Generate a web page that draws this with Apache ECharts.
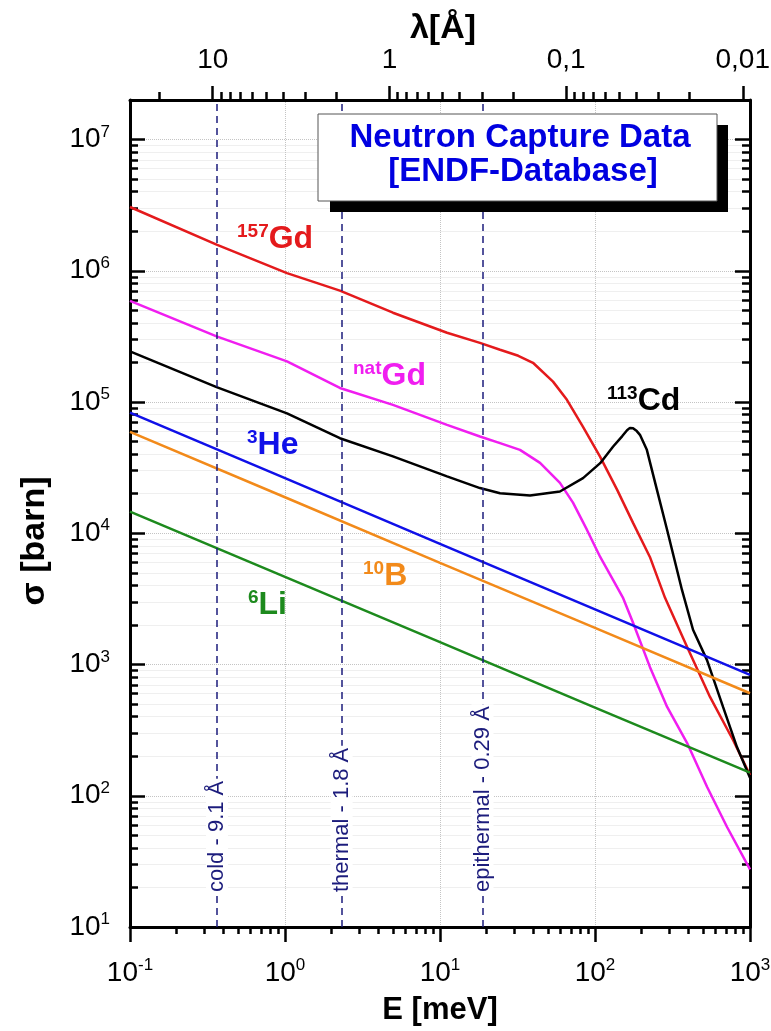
<!DOCTYPE html>
<html>
<head>
<meta charset="utf-8">
<script src="https://cdn.jsdelivr.net/npm/echarts@6/dist/echarts.min.js"></script>
<style>
  html, body { margin: 0; padding: 0; background: #fff; }
  #main { width: 771px; height: 1031px; }
</style>
</head>
<body>
<div id="main"></div>
<script>
const FONT = '"Liberation Sans", Arial, sans-serif'

// capture cross sections: E [meV] -> sigma [barn]
const eGd157 = [0.1, 0.362, 1.03, 2.26, 4.97, 11.1, 18.1, 24.4, 32, 39.8, 53.6, 65.9, 83.7, 108, 139, 176, 226, 283, 393, 552, 777, 1000]
const sGd157 = [3.06e6, 1.58e6, 9.6e5, 7.05e5, 4.79e5, 3.37e5, 2.82e5, 2.5e5, 2.25e5, 1.99e5, 1.43e5, 1.04e5, 6.47e4, 3.82e4, 2.14e4, 1.2e4, 6.6e3, 3.22e3, 1.36e3, 566, 266, 144]

const eGdNat = [0.1, 0.362, 1.03, 2.26, 4.97, 11.1, 18.1, 24.4, 32.8, 44.2, 59.4, 72.1, 88.8, 108, 131, 152, 176, 226, 292, 393, 528, 711, 1000]
const sGdNat = [5.9e5, 3.16e5, 2.04e5, 1.28e5, 9.5e4, 6.7e4, 5.46e4, 4.86e4, 4.32e4, 3.44e4, 2.42e4, 1.71e4, 1.06e4, 6.6e3, 4.4e3, 3.2e3, 2.08e3, 959, 475, 252, 117, 57.8, 27.5]

const eCd113 = [0.1, 0.362, 1.03, 2.26, 4.97, 11.1, 18.1, 24.4, 38.1, 59.4, 83.7, 108, 131, 150, 161, 168, 176, 186, 195, 216, 251, 292, 364, 429, 528, 670, 824, 1000]
const sCd113 = [2.43e5, 1.3e5, 8.2e4, 5.3e4, 3.85e4, 2.71e4, 2.21e4, 2.02e4, 1.94e4, 2.08e4, 2.63e4, 3.42e4, 4.58e4, 5.5e4, 6.1e4, 6.35e4, 6.3e4, 6.0e4, 5.62e4, 4.32e4, 2.14e4, 1.06e4, 3.7e3, 1.84e3, 1.08e3, 475, 235, 137]

// the 1/v absorbers
const eOneOverV = [0.1, 1, 10, 100, 1000]
const sHe3 = [8.3e4, 2.63e4, 8.3e3, 2.63e3, 834]
const sB10 = [5.93e4, 1.88e4, 5.95e3, 1.9e3, 604]
const sLi6 = [1.46e4, 4.65e3, 1.48e3, 470, 150]

// cold / thermal / epithermal markers
const eMarks = [0.364, 2.32, 18.8]
const markNames = ['cold - 9.1 Å', 'thermal - 1.8 Å', 'epithermal - 0.29 Å']

// tick values
const lambdaTicks = [10, 1, 0.1, 0.01]
const lambdaLabels = ['10', '1', '0,1', '0,01']
const lambdaMinor = [20, 9, 8, 7, 6, 5, 4, 3, 2, 0.9, 0.8, 0.7, 0.6, 0.5, 0.4, 0.3, 0.2,
  0.09, 0.08, 0.07, 0.06, 0.05, 0.04, 0.03, 0.02]
const eMinor = [0.2, 0.3, 0.4, 0.5, 0.6, 0.7, 0.8, 0.9, 2, 3, 4, 5, 6, 7, 8, 9,
  20, 30, 40, 50, 60, 70, 80, 90, 200, 300, 400, 500, 600, 700, 800, 900]
const sMinor = [20, 30, 40, 50, 60, 70, 80, 90, 200, 300, 400, 500, 600, 700, 800, 900,
  2000, 3000, 4000, 5000, 6000, 7000, 8000, 9000, 2e4, 3e4, 4e4, 5e4, 6e4, 7e4, 8e4, 9e4,
  2e5, 3e5, 4e5, 5e5, 6e5, 7e5, 8e5, 9e5, 2e6, 3e6, 4e6, 5e6, 6e6, 7e6, 8e6, 9e6]

function pairs(es, ss) {
  return es.map((e, i) => [e, ss[i]])
}

function pow10(v) {
  let n = Math.round(Math.log10(v))
  if (Math.abs(Math.log10(v) - n) > 0.01) return ''
  return '{b|10}{s|' + n + '}'
}

const powRich = {
  b: { fontSize: 28, fontFamily: FONT, color: '#000', lineHeight: 32 },
  s: { fontSize: 17, fontFamily: FONT, color: '#000', lineHeight: 12, verticalAlign: 'top' }
}

const frame = { show: true, lineStyle: { color: '#000', width: 3 } }
const tick = (len, inside, vals) => ({
  show: true, inside: inside, length: len, customValues: vals,
  lineStyle: { color: '#000', width: 2.5 }
})

function isoLabel(x, yc, sup, main, color) {
  return {
    type: 'text', x: x, y: yc - 17, z: 50,
    style: {
      text: '{a|' + sup + '}{m|' + main + '}',
      fill: color, align: 'left', verticalAlign: 'top',
      rich: {
        a: { font: 'bold 19px ' + FONT, fill: color, lineHeight: 10, verticalAlign: 'top' },
        m: { font: 'bold 32px ' + FONT, fill: color, lineHeight: 34 }
      }
    }
  }
}

function axisTitle(x, y, text, size, rot) {
  return {
    type: 'text', z: 50, x: x, y: y, rotation: rot || 0,
    style: { text: text, font: 'bold ' + size + 'px ' + FONT, fill: '#000', align: 'center', verticalAlign: 'middle' }
  }
}

let EC = echarts.init(document.getElementById('main'))

let option = {
  animation: false,
  backgroundColor: '#fff',
  textStyle: { fontFamily: FONT },
  grid: { left: 130, right: 21, top: 100, bottom: 104, outerBoundsMode: 'none', containLabel: false },
  xAxis: [
    {
      type: 'log', position: 'bottom', min: 0.1, max: 1000,
      axisLine: frame,
      axisTick: tick(15, false),
      axisLabel: { formatter: pow10, rich: powRich, margin: 30 },
      splitLine: { show: true, lineStyle: { color: '#c4c4c4', type: 'dotted', width: 1 } }
    },
    {
      type: 'log', position: 'bottom', min: 0.1, max: 1000,
      axisLine: { show: false }, axisTick: tick(7, false, eMinor),
      axisLabel: { show: false }, splitLine: { show: false }
    },
    {
      type: 'log', position: 'top', inverse: true, min: 0.0091, max: 29.4,
      axisLine: frame,
      axisTick: tick(14, false, lambdaTicks),
      axisLabel: {
        customValues: lambdaTicks, margin: 26, fontSize: 28, color: '#000',
        formatter: v => lambdaLabels[lambdaTicks.findIndex(t => Math.abs(t - v) < t * 0.01)] || ''
      },
      splitLine: { show: false }
    },
    {
      type: 'log', position: 'top', inverse: true, min: 0.0091, max: 29.4,
      axisLine: { show: false }, axisTick: tick(8, false, lambdaMinor),
      axisLabel: { show: false }, splitLine: { show: false }
    }
  ],
  yAxis: [
    {
      type: 'log', position: 'left', min: 10, max: 2e7,
      axisLine: frame,
      axisTick: tick(15, true),
      axisLabel: { formatter: pow10, rich: powRich, margin: 20 },
      splitLine: { show: true, lineStyle: { color: '#c4c4c4', type: 'dotted', width: 1 } }
    },
    {
      type: 'log', position: 'left', min: 10, max: 2e7,
      axisLine: { show: false }, axisTick: tick(8, true, sMinor),
      axisLabel: { show: false },
      splitLine: { show: true, lineStyle: { color: '#efefef', width: 1 } }
    },
    {
      type: 'log', position: 'right', min: 10, max: 2e7,
      axisLine: frame, axisTick: tick(15, true),
      axisLabel: { show: false }, splitLine: { show: false }
    },
    {
      type: 'log', position: 'right', min: 10, max: 2e7,
      axisLine: { show: false }, axisTick: tick(8, true, sMinor),
      axisLabel: { show: false }, splitLine: { show: false }
    }
  ],
  series: [
    { name: '157Gd', color: '#e41a1c', data: pairs(eGd157, sGd157) },
    { name: 'natGd', color: '#f01ef0', data: pairs(eGdNat, sGdNat) },
    { name: '113Cd', color: '#000000', data: pairs(eCd113, sCd113) },
    { name: '3He', color: '#1010e8', data: pairs(eOneOverV, sHe3) },
    { name: '10B', color: '#f28a1a', data: pairs(eOneOverV, sB10) },
    {
      name: '6Li', color: '#1d8a1d', data: pairs(eOneOverV, sLi6),
      markLine: {
        silent: true, symbol: ['none', 'none'],
        lineStyle: { color: '#1c1c7c', type: [7, 5], width: 1.5 },
        label: {
          show: true, position: 'insideStart', distance: [33, 0], formatter: '{b}',
          color: '#1c1c7c', fontSize: 22, fontFamily: FONT,
          backgroundColor: '#fff', padding: [0, 2]
        },
        data: eMarks.map((e, i) => [{ coord: [e, 10], name: markNames[i] }, { coord: [e, 2e7] }])
      }
    }
  ].map(s => Object.assign({
    type: 'line', xAxisIndex: 0, yAxisIndex: 0, showSymbol: false,
    lineStyle: { width: 2.5 }
  }, s)),
  graphic: [
    { type: 'rect', z: 100, shape: { x: 330, y: 125, width: 398, height: 87 }, style: { fill: '#000' } },
    { type: 'rect', z: 101, shape: { x: 318, y: 114, width: 399, height: 87 }, style: { fill: '#fff', stroke: '#555', lineWidth: 1 } },
    { type: 'text', z: 102, x: 520, y: 138, style: { text: 'Neutron Capture Data', font: 'bold 33px ' + FONT, fill: '#0000e0', align: 'center', verticalAlign: 'middle' } },
    { type: 'text', z: 102, x: 523, y: 172, style: { text: '[ENDF-Database]', font: 'bold 33px ' + FONT, fill: '#0000e0', align: 'center', verticalAlign: 'middle' } },
    axisTitle(35, 541, 'σ [barn]', 34, Math.PI / 2),
    axisTitle(440, 1010, 'E [meV]', 31),
    axisTitle(443, 29, 'λ[Å]', 34),
    isoLabel(237, 239, '157', 'Gd', '#e41a1c'),
    isoLabel(353, 376, 'nat', 'Gd', '#f01ef0'),
    isoLabel(607, 401, '113', 'Cd', '#000'),
    isoLabel(247, 445, '3', 'He', '#1010e8'),
    isoLabel(363, 576, '10', 'B', '#f28a1a'),
    isoLabel(248, 605, '6', 'Li', '#1d8a1d')
  ]
}

EC.setOption(option)
</script>
</body>
</html>
